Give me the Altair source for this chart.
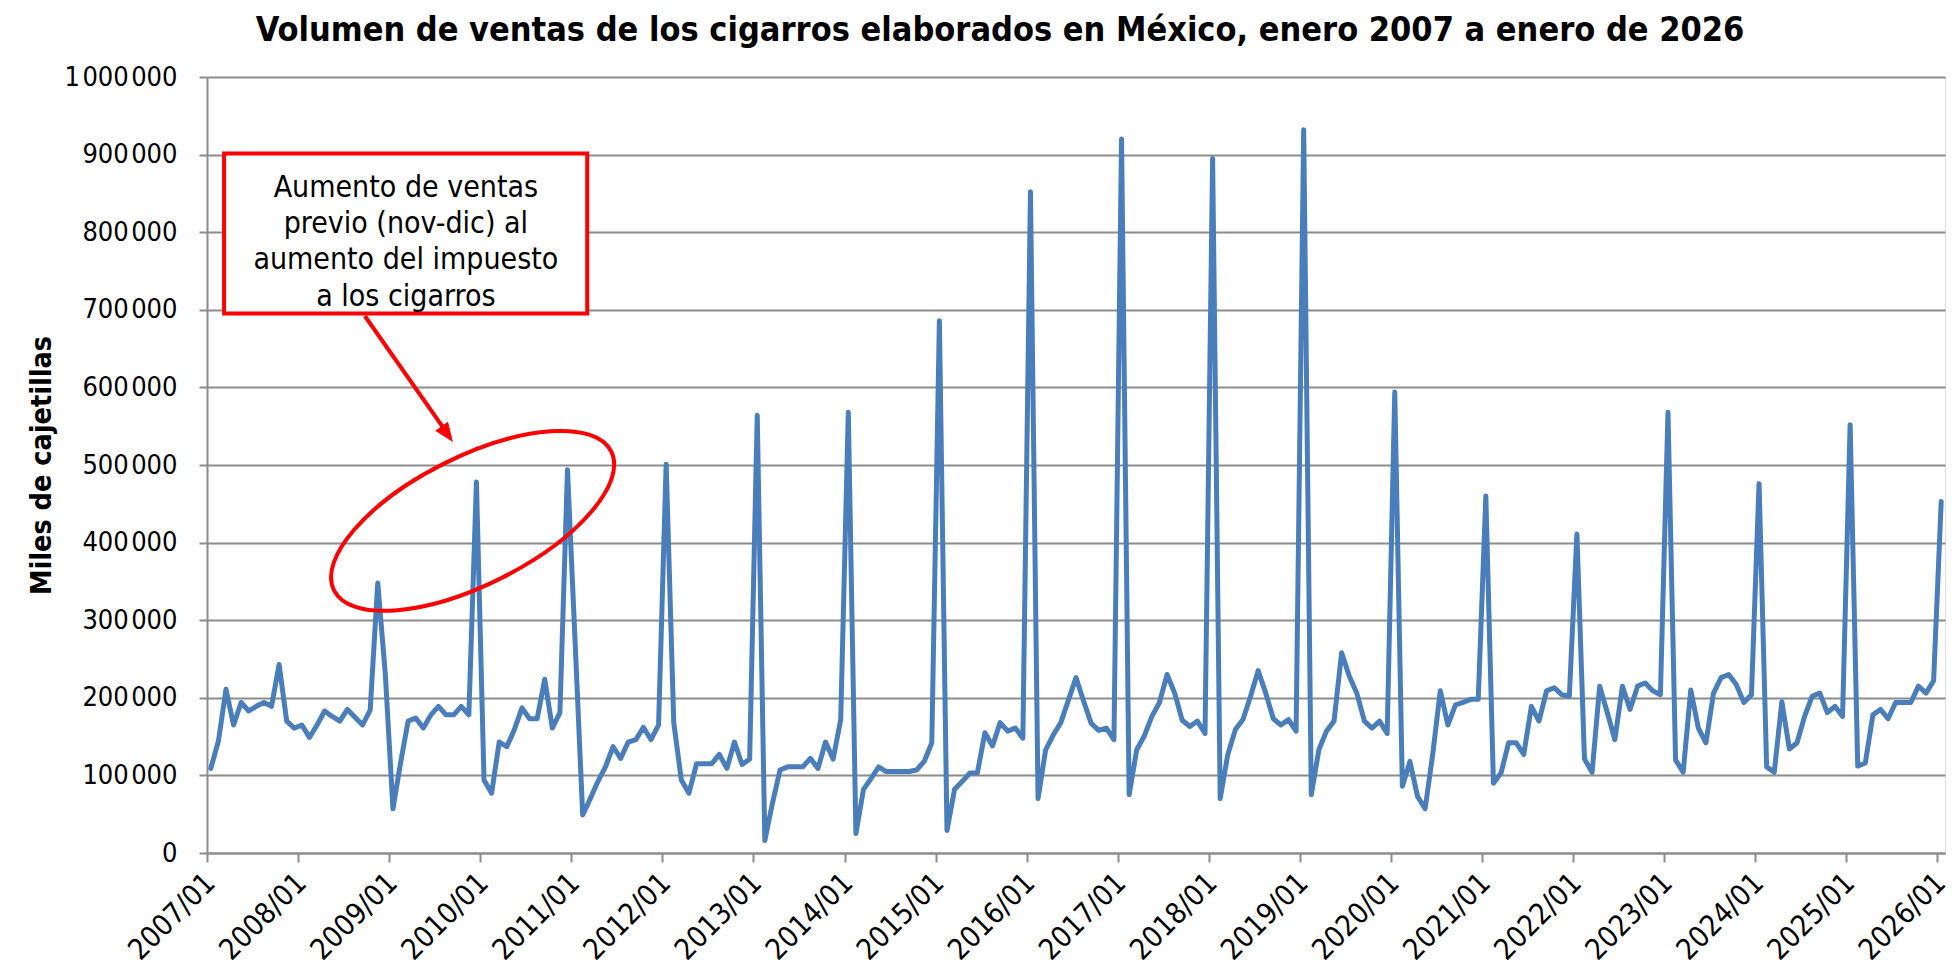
import altair as alt
import pandas as pd

# ---------------- data (miles de cajetillas, en miles) ----------------
v2007 = [109, 144, 211, 165, 194, 183, 189, 194, 189, 243, 170, 161]
v2008 = [165, 149, 165, 183, 176, 170, 185, 175, 165, 184, 348, 230]
v2009 = [57, 116, 170, 174, 161, 178, 189, 178, 178, 189, 178, 478]
v2010 = [94, 77, 143, 137, 159, 187, 173, 173, 224, 161, 181, 494]
v2011 = [272, 49, 70, 92, 111, 137, 122, 143, 146, 162, 146, 165]
v2012 = [501, 168, 94, 77, 115, 115, 115, 127, 109, 143, 114, 121]
v2013 = [564, 16, 64, 107, 111, 111, 111, 122, 109, 143, 121, 172]
v2014 = [568, 25, 82, 96, 111, 105, 105, 105, 105, 107, 118, 142]
v2015 = [686, 29, 82, 92, 103, 103, 155, 138, 168, 157, 161, 148]
v2016 = [852, 70, 133, 152, 168, 197, 226, 196, 167, 158, 161, 146]
v2017 = [920, 75, 133, 151, 176, 194, 230, 206, 171, 163, 170, 154]
v2018 = [895, 70, 127, 159, 172, 202, 235, 206, 173, 165, 172, 157]
v2019 = [932, 75, 133, 157, 170, 258, 228, 206, 170, 161, 170, 154]
v2020 = [594, 86, 118, 73, 57, 127, 209, 165, 191, 194, 198, 198]
v2021 = [460, 90, 103, 142, 142, 127, 189, 170, 209, 213, 204, 202]
v2022 = [411, 121, 104, 215, 181, 146, 215, 185, 215, 219, 209, 204]
v2023 = [568, 120, 104, 210, 161, 142, 206, 226, 230, 217, 194, 204]
v2024 = [476, 111, 104, 195, 134, 142, 176, 202, 206, 181, 189, 176]
v2025 = [552, 112, 116, 178, 185, 173, 194, 194, 194, 215, 206, 222]
v2026 = [453]

series = (v2007 + v2008 + v2009 + v2010 + v2011 + v2012 + v2013 + v2014 + v2015
          + v2016 + v2017 + v2018 + v2019 + v2020 + v2021 + v2022 + v2023 + v2024
          + v2025 + v2026)

years = list(range(2007, 2027))
months = [f"{y}/{m:02d}" for y in years for m in range(1, 13)][:len(series)]
tick_labels = [f"{y}/01" for y in years]
tick_pos = [-0.5 + 12 * k for k in range(len(tick_labels))]

title_text = "Volumen de ventas de los cigarros elaborados en México, enero 2007 a enero de 2026"
note_lines = ["Aumento de ventas", "previo (nov-dic) al", "aumento del impuesto", "a los cigarros"]

df = pd.DataFrame({"i": list(range(len(series))), "mes": months,
                   "ventas": [v * 1000 for v in series]})

# annotation anchors in data coordinates
box_df = pd.DataFrame({"i": [1.75], "i2": [49.6], "ventas": [901400], "ventas2": [695200]})
note_df = pd.DataFrame({"i": [25.7] * 4, "ventas": [857000, 811000, 764400, 717000],
                        "txt": note_lines})
arrow_df = pd.DataFrame({"i": [20.3], "i2": [31.5], "ventas": [692000], "ventas2": [536000]})
head_df = pd.DataFrame({"i": [31.8], "ventas": [531000]})
ell_df = pd.DataFrame({"i": [34.5], "ventas": [428000]})
title_df = pd.DataFrame({"txt": [title_text]})

FONT = "DejaVu Sans Condensed, DejaVu Sans"
GRID = "#8c8c8c"
RED = "#ff0000"
BLUE = "#4a7ebb"

label_arr = "[" + ",".join(f"'{t}'" for t in tick_labels) + "]"

xs = alt.Scale(domain=[-0.5, 228.5], nice=False, zero=False)
ys = alt.Scale(domain=[0, 1000000], nice=False)

line = alt.Chart(df).mark_line(color=BLUE, strokeWidth=5, strokeJoin="round",
                               strokeCap="round").encode(
    x=alt.X("i:Q", scale=xs, title=None,
            axis=alt.Axis(values=tick_pos, labelExpr=f"{label_arr}[round((datum.value + 0.5) / 12)]",
                          labelAngle=315, labelAlign="right", labelBaseline="middle",
                          labelPadding=16, labelOffset=3, labelFontSize=29, labelFont=FONT,
                          labelColor="black", tickSize=9, tickWidth=2, tickColor=GRID,
                          domainColor=GRID, domainWidth=2, grid=False, labelOverlap=False,
                          labelBound=False, labelFlush=False)),
    y=alt.Y("ventas:Q", scale=ys,
            axis=alt.Axis(values=list(range(0, 1000001, 100000)),
                          labelExpr="replace(replace(format(datum.value, ','), ',', '\u200a'), ',', '\u200a')",
                          labelFontSize=27, labelFont=FONT, labelColor="black", labelPadding=22,
                          tickSize=8, tickWidth=2, tickColor=GRID, domainColor=GRID, domainWidth=2,
                          gridColor=GRID, gridWidth=2, title="Miles de cajetillas",
                          titleFont=FONT, titleFontSize=28.5, titleFontWeight="bold",
                          titleColor="black", titleAngle=270, titleX=-157, titleY=388,
                          titleAlign="center", titleBaseline="alphabetic")),
)

box = alt.Chart(box_df).mark_rect(fill="white", stroke=RED, strokeWidth=4).encode(
    x="i:Q", x2="i2:Q", y="ventas:Q", y2="ventas2:Q")

note = alt.Chart(note_df).mark_text(font=FONT, fontSize=30, color="black",
                                    align="center", baseline="middle").encode(
    x="i:Q", y="ventas:Q", text="txt:N")

arrow = alt.Chart(arrow_df).mark_rule(color=RED, strokeWidth=4).encode(
    x="i:Q", x2="i2:Q", y="ventas:Q", y2="ventas2:Q")

head = alt.Chart(head_df).mark_point(shape="M0,0 L0.65,1.6 L-0.65,1.6 Z", size=484,
                                     filled=True, fill=RED, stroke=RED, strokeWidth=1,
                                     opacity=1, angle=144.3).encode(x="i:Q", y="ventas:Q")

ellipse_path = ("M1,0 C1,0.228 0.552,0.413 0,0.413 C-0.552,0.413 -1,0.228 -1,0 "
                "C-1,-0.228 -0.552,-0.413 0,-0.413 C0.552,-0.413 1,-0.228 1,0 Z")
ell = alt.Chart(ell_df).mark_point(shape=ellipse_path, size=96100, filled=False,
                                   stroke=RED, strokeWidth=4, opacity=1,
                                   angle=333.4).encode(x="i:Q", y="ventas:Q")

title = alt.Chart(title_df).mark_text(font=FONT, fontSize=34, fontWeight="bold",
                                      color="black", align="center",
                                      baseline="alphabetic").encode(
    x=alt.value(793), y=alt.value(-36), text="txt:N")

chart = alt.layer(line, box, note, arrow, head, ell, title).properties(
    width=1738, height=776,
    autosize=alt.AutoSizeParams(type="none"),
    padding={"left": 199, "top": 69, "right": 7, "bottom": 116},
).configure_view(stroke=None).configure(background="white")

chart.save("out.html", embed_options={"renderer": "svg", "actions": False})
